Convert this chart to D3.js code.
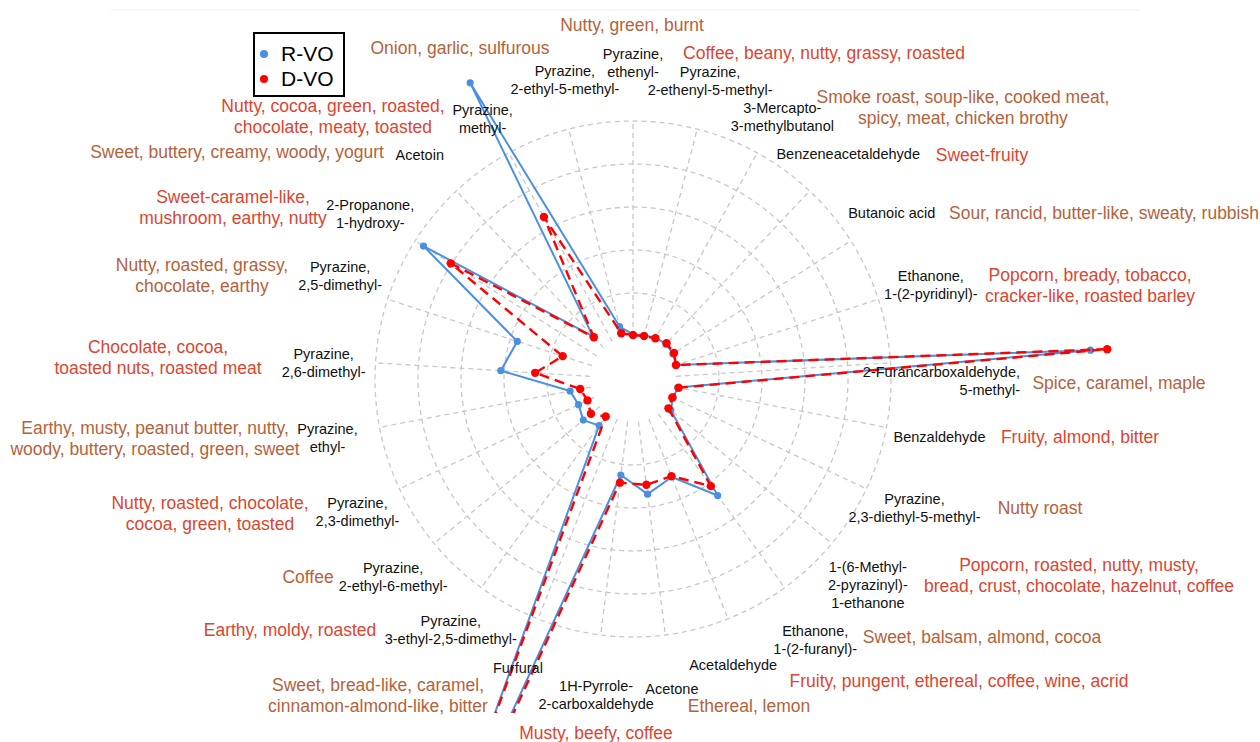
<!DOCTYPE html>
<html>
<head>
<meta charset="utf-8">
<script src="https://cdn.jsdelivr.net/npm/d3@7"></script>
<style>
  body { margin: 0; background: #fff; }
  svg { display: block; }
  text { font-family: "Liberation Sans", Arial, sans-serif; }
</style>
</head>
<body>
<svg id="chart" width="1260" height="742"></svg>
<script>
// Volatile compounds, one radar axis each, clockwise from 12 o'clock
const compounds = [
  "Pyrazine,\nethenyl-",
  "Pyrazine,\n2-ethenyl-5-methyl-",
  "3-Mercapto-\n3-methylbutanol",
  "Benzeneacetaldehyde",
  "Butanoic acid",
  "Ethanone,\n1-(2-pyridinyl)-",
  "2-Furancarboxaldehyde,\n5-methyl-",
  "Benzaldehyde",
  "Pyrazine,\n2,3-diethyl-5-methyl-",
  "1-(6-Methyl-\n2-pyrazinyl)-\n1-ethanone",
  "Ethanone,\n1-(2-furanyl)-",
  "Acetaldehyde",
  "Acetone",
  "1H-Pyrrole-\n2-carboxaldehyde",
  "Furfural",
  "Pyrazine,\n3-ethyl-2,5-dimethyl-",
  "Pyrazine,\n2-ethyl-6-methyl-",
  "Pyrazine,\n2,3-dimethyl-",
  "Pyrazine,\nethyl-",
  "Pyrazine,\n2,6-dimethyl-",
  "Pyrazine,\n2,5-dimethyl-",
  "2-Propanone,\n1-hydroxy-",
  "Acetoin",
  "Pyrazine,\nmethyl-",
  "Pyrazine,\n2-ethyl-5-methyl-"
];

// Odour descriptors for each compound
const descriptors = [
  "Nutty, green, burnt",
  "Coffee, beany, nutty, grassy, roasted",
  "Smoke roast, soup-like, cooked meat,\nspicy, meat, chicken brothy",
  "Sweet-fruity",
  "Sour, rancid, butter-like, sweaty, rubbish",
  "Popcorn, bready, tobacco,\ncracker-like, roasted barley",
  "Spice, caramel, maple",
  "Fruity, almond, bitter",
  "Nutty roast",
  "Popcorn, roasted, nutty, musty,\nbread, crust, chocolate, hazelnut, coffee",
  "Sweet, balsam, almond, cocoa",
  "Fruity, pungent, ethereal, coffee, wine, acrid",
  "Ethereal, lemon",
  "Musty, beefy, coffee",
  "Sweet, bread-like, caramel,\ncinnamon-almond-like, bitter",
  "Earthy, moldy, roasted",
  "Coffee",
  "Nutty, roasted, chocolate,\ncocoa, green, toasted",
  "Earthy, musty, peanut butter, nutty,\nwoody, buttery, roasted, green, sweet",
  "Chocolate, cocoa,\ntoasted nuts, roasted meat",
  "Nutty, roasted, grassy,\nchocolate, earthy",
  "Sweet-caramel-like,\nmushroom, earthy, nutty",
  "Sweet, buttery, creamy, woody, yogurt",
  "Nutty, cocoa, green, roasted,\nchocolate, meaty, toasted",
  "Onion, garlic, sulfurous"
];

// Relative content per compound
const rvoValues = [0.4, 0.5, 0.9, 1.2, 1.0, 0.6, 96.6, 0.6, 0.3, 1.4, 23.5, 14.5, 17.0, 12.5, 117.0,
                   3.4, 5.0, 4.0, 4.9, 20.8, 18.3, 47.7, 3.6, 68.6, 2.6];
const dvoValues = [0.2, 0.3, 0.8, 1.4, 1.3, 0.5, 100.5, 0.8, 0.1, 0.7, 20.8, 14.3, 14.8, 14.3, 122.0,
                   0.8, 2.7, 1.7, 2.5, 12.8, 7.2, 40.2, 3.3, 33.0, 1.0];

const seriesNames = ["R-VO", "D-VO"];
const ringTicks = [10, 20, 30, 40, 50];

// ---- layout ----
const W = 1260, H = 742;
const cx = 633, cy = 379;
const innerR = 43, outerR = 258;
const labelR = 310;
const seriesColors = ["#4a90e2", "#ff0000"];
const descColors = ["#b5623b", "#dc4530"];

// nudges applied to compound labels (px) to keep them clear of the lines
const labelNudge = [
  [0,-6],[0,2],[0,10],[3,1],[-3,0],[3,2],[-1,21],[2,0],[1,-3],[-4,8],[0,10],[-14,-2],[0,2],
  [2,8],[-1,1],[0,0],[-1,0],[5,1],[-1,1],[0,3],[2,-7],[-1,1],[-1,2],[-1,12],[9,1]
];
// compound labels set flush right instead of centred
const rightAligned = { 6: 1020 };

// centres of the descriptor text blocks
const descPos = [
  [632,25],[824,53],[963,107.5],[982,155],[1104,213],[1090,285.5],[1119,383],[1080,437],
  [1040,508],[1079,575.5],[982,637],[959,681],[749,706],[596,733],[378,695],[290,630],
  [308,577],[210,513],[155,438],[158,357.5],[202,275],[233,207.5],[237,152],[333,116.5],[460,48]
];

const svg = d3.select("#chart");
const n = compounds.length;

const angle = d3.scaleLinear().domain([0, n]).range([0, 2 * Math.PI]);
const r = d3.scaleLinear().domain([0, 50]).range([innerR, outerR]);

// faint panel top rule
svg.append("line")
  .attr("x1", 111).attr("x2", 1139).attr("y1", 10).attr("y2", 10)
  .attr("stroke", "#eeeeee").attr("stroke-width", 1);

const grid = svg.append("g").attr("transform", `translate(${cx},${cy})`);

// concentric dashed rings
grid.selectAll("circle.ring")
  .data(ringTicks)
  .join("circle")
  .attr("class", "ring")
  .attr("r", d => r(d))
  .attr("fill", "none")
  .attr("stroke", "#c8c8c8")
  .attr("stroke-width", 1.3)
  .attr("stroke-dasharray", "5,4");

// dashed spokes
grid.selectAll("line.spoke")
  .data(d3.range(n))
  .join("line")
  .attr("class", "spoke")
  .attr("x1", i => r(0) * Math.sin(angle(i)))
  .attr("y1", i => -r(0) * Math.cos(angle(i)))
  .attr("x2", i => r(50) * Math.sin(angle(i)))
  .attr("y2", i => -r(50) * Math.cos(angle(i)))
  .attr("stroke", "#c8c8c8")
  .attr("stroke-width", 1.3)
  .attr("stroke-dasharray", "5,4");

// data, clipped to the panel
svg.append("defs").append("clipPath").attr("id", "panel")
  .append("rect").attr("x", 111).attr("y", 10).attr("width", 1028).attr("height", 703);

const plot = svg.append("g").attr("clip-path", "url(#panel)")
  .append("g").attr("transform", `translate(${cx},${cy})`);

const radial = d3.lineRadial()
  .angle((d, i) => angle(i))
  .radius(d => r(d))
  .curve(d3.curveLinearClosed);

const series = [
  { name: seriesNames[0], values: rvoValues, color: seriesColors[0], dash: null, width: 2, dot: 3.6 },
  { name: seriesNames[1], values: dvoValues, color: seriesColors[1], dash: "10,6", width: 2.4, dot: 4.2 }
];

series.forEach(s => {
  const g = plot.append("g");
  g.append("path")
    .attr("d", radial(s.values))
    .attr("fill", "none")
    .attr("stroke", s.color)
    .attr("stroke-width", s.width)
    .attr("stroke-dasharray", s.dash)
    .attr("stroke-linejoin", "round");
  g.selectAll("circle")
    .data(s.values)
    .join("circle")
    .attr("cx", (d, i) => r(d) * Math.sin(angle(i)))
    .attr("cy", (d, i) => -r(d) * Math.cos(angle(i)))
    .attr("r", s.dot)
    .attr("fill", s.color);
});

// compound labels
const cLab = svg.append("g");
compounds.forEach((name, i) => {
  const a = angle(i);
  let x = cx + labelR * Math.sin(a) + labelNudge[i][0];
  const y = cy - labelR * Math.cos(a) + labelNudge[i][1];
  let anchor = "middle";
  if (rightAligned[i] !== undefined) { x = rightAligned[i]; anchor = "end"; }
  const lines = name.split("\n");
  const lh = 18;
  const t = cLab.append("text")
    .attr("text-anchor", anchor)
    .attr("font-size", 14.5)
    .attr("fill", "#111");
  lines.forEach((ln, j) => {
    t.append("tspan")
      .attr("x", x)
      .attr("y", y + (j - (lines.length - 1) / 2) * lh)
      .attr("dy", "0.35em")
      .text(ln);
  });
});

// descriptor labels
const dLab = svg.append("g");
descriptors.forEach((txt, i) => {
  const [x, y] = descPos[i];
  const lines = txt.split("\n");
  const lh = 21;
  const t = dLab.append("text")
    .attr("text-anchor", "middle")
    .attr("font-size", 17.5)
    .attr("fill", descColors[i % 2]);
  lines.forEach((ln, j) => {
    t.append("tspan")
      .attr("x", x)
      .attr("y", y + (j - (lines.length - 1) / 2) * lh)
      .attr("dy", "0.35em")
      .text(ln);
  });
});

// legend
const lg = svg.append("g");
lg.append("rect")
  .attr("x", 254).attr("y", 33).attr("width", 90).attr("height", 63)
  .attr("fill", "#fff").attr("stroke", "#000").attr("stroke-width", 2);
series.forEach((s, k) => {
  const y = 54 + k * 25;
  lg.append("circle").attr("cx", 264).attr("cy", y).attr("r", 4).attr("fill", s.color);
  lg.append("text").attr("x", 281).attr("y", y).attr("dy", "0.35em")
    .attr("font-size", 21).attr("fill", "#000").text(s.name);
});
</script>
</body>
</html>
